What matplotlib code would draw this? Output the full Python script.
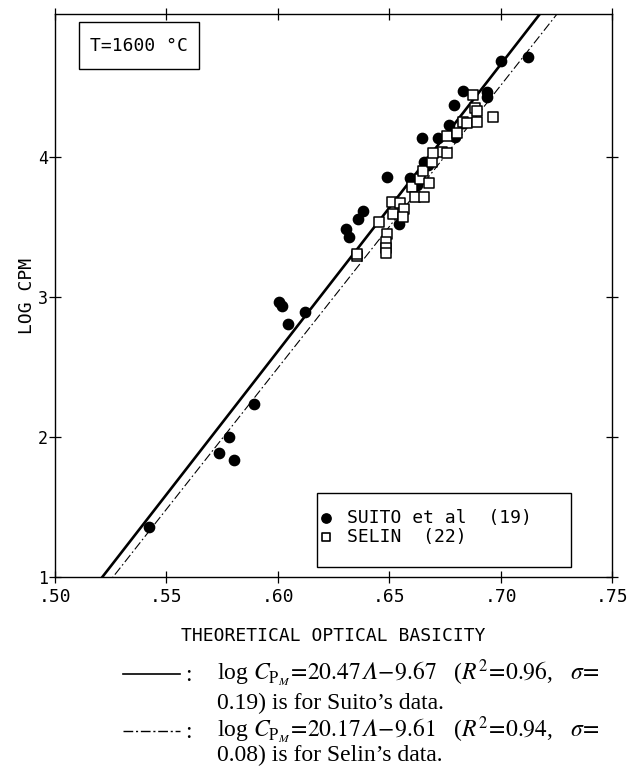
import numpy as np
import matplotlib.pyplot as plt
from matplotlib.patches import Rectangle
from matplotlib.lines import Line2D

plt.rcParams['font.family'] = 'DejaVu Sans Mono'
plt.rcParams['mathtext.fontset'] = 'stix'

# Suito et al (19) - filled circles
suito_x = [0.5422, 0.5737, 0.5782, 0.5802, 0.5893, 0.6005, 0.6019, 0.6047, 0.6122,
           0.6305, 0.6321, 0.6359, 0.6382, 0.6489, 0.6545, 0.6593, 0.6602, 0.6625,
           0.6647, 0.6656, 0.6674, 0.6720, 0.6768, 0.6795, 0.6792, 0.6829, 0.6833,
           0.6938, 0.6938, 0.7002, 0.7124]
suito_y = [1.355, 1.888, 1.998, 1.836, 2.236, 2.966, 2.936, 2.805, 2.895,
           3.484, 3.431, 3.557, 3.614, 3.854, 3.518, 3.848, 3.836, 3.800,
           4.138, 3.964, 3.943, 4.132, 4.225, 4.143, 4.368, 4.471, 4.241,
           4.464, 4.429, 4.682, 4.712]

# Selin (22) - open squares
selin_x = [0.6355, 0.6355, 0.6453, 0.6488, 0.6486, 0.6486, 0.6484, 0.6518, 0.6514,
           0.6548, 0.6568, 0.6561, 0.6601, 0.6616, 0.6656, 0.6638, 0.6680, 0.6653,
           0.6691, 0.6736, 0.6758, 0.6698, 0.6758, 0.6803, 0.6833, 0.6848, 0.6893,
           0.6885, 0.6893, 0.6876, 0.6965]
selin_y = [3.293, 3.307, 3.532, 3.446, 3.393, 3.346, 3.314, 3.595, 3.679,
           3.671, 3.626, 3.574, 3.786, 3.716, 3.716, 3.843, 3.816, 3.900,
           3.966, 4.034, 4.026, 4.026, 4.150, 4.169, 4.252, 4.241, 4.250,
           4.348, 4.329, 4.443, 4.288]

# regression lines from the caption: log C = a*Lambda + b
suito_fit = (20.47, -9.67)
selin_fit = (20.17, -9.61)

x_ticks = [0.50, 0.55, 0.60, 0.65, 0.70, 0.75]
x_ticklabels = ['.50', '.55', '.60', '.65', '.70', '.75']
y_ticks = [1, 2, 3, 4]
y_ticklabels = ['1', '2', '3', '4']

W, H = 632, 767
fig = plt.figure(figsize=(W / 100, H / 100), dpi=100)
ax = fig.add_axes([55 / W, 1 - 577 / H, 557 / W, 563 / H])

xx = np.array([0.50, 0.75])
ax.plot(xx, suito_fit[0] * xx + suito_fit[1], color='k', lw=1.9, zorder=2)
ax.plot(xx, selin_fit[0] * xx + selin_fit[1], color='k', lw=0.8,
        linestyle=(0, (8, 2.5, 1.5, 2.5)), zorder=2)

ax.scatter(suito_x, suito_y, s=55, marker='o', color='k', zorder=3)
ax.scatter(selin_x, selin_y, s=48, marker='s', facecolors='white',
           edgecolors='k', linewidths=1.1, zorder=4)

ax.set_xlim(0.50, 0.75)
ax.set_ylim(1, 5.02)
ax.set_xticks(x_ticks)
ax.set_xticklabels(x_ticklabels)
ax.set_yticks(y_ticks)
ax.set_yticklabels(y_ticklabels)
ax.tick_params(direction='inout', length=8, width=0.9, top=True, right=True,
               labelsize=13)
ax.tick_params(axis='x', pad=4)
ax.tick_params(axis='y', pad=1, labelsize=12)
for s in ax.spines.values():
    s.set_linewidth(1.0)

ax.set_xlabel('THEORETICAL OPTICAL BASICITY', fontsize=13, va='center')
ax.xaxis.set_label_coords(0.5, (577 - 636) / 563)
ax.set_ylabel('LOG CPM', fontsize=13, va='center')
ax.yaxis.set_label_coords((27 - 55) / 557, 0.5)

# temperature box
ax.add_patch(Rectangle((0.043, 0.902), 0.2155, 0.084, transform=ax.transAxes,
                       fill=False, lw=1.0, zorder=5))
ax.text(0.151, 0.944, 'T=1600 °C', transform=ax.transAxes, ha='center',
        va='center', fontsize=13, zorder=6)

# legend box
ax.add_patch(Rectangle((0.470, 0.018), 0.456, 0.131, transform=ax.transAxes,
                       facecolor='white', edgecolor='k', lw=1.0, zorder=5))
ax.scatter([0.486], [0.105], s=45, marker='o', color='k',
           transform=ax.transAxes, zorder=6, clip_on=False)
ax.scatter([0.486], [0.071], s=34, marker='s', facecolors='white',
           edgecolors='k', linewidths=1.2, transform=ax.transAxes, zorder=6,
           clip_on=False)
ax.text(0.525, 0.105, 'SUITO et al  (19)', transform=ax.transAxes,
        va='center', fontsize=13, zorder=6)
ax.text(0.525, 0.071, 'SELIN  (22)', transform=ax.transAxes,
        va='center', fontsize=13, zorder=6)

# caption below the chart
serif = 'Liberation Serif'
cap_size = 17
fig.add_artist(Line2D([123 / W, 180 / W], [1 - 674 / H] * 2, color='k', lw=1.2))
fig.add_artist(Line2D([123 / W, 180 / W], [1 - 731 / H] * 2, color='k', lw=1.0,
                      linestyle=(0, (7, 2, 1.5, 2))))
fig.text(185 / W, 1 - 681 / H, ':', family=serif, fontsize=cap_size)
fig.text(185 / W, 1 - 738 / H, ':', family=serif, fontsize=cap_size)
fig.text(217 / W, 1 - 681 / H,
         r'log $C_{\mathrm{P}_{M}}\!=\!20.47𝛬\!-\!9.67$'
         r'   ($R^{2}\!=\!0.96$,   $\sigma\!=$',
         family=serif, fontsize=cap_size, va='baseline')
fig.text(217 / W, 1 - 709 / H, '0.19) is for Suito’s data.',
         family=serif, fontsize=cap_size, va='baseline')
fig.text(217 / W, 1 - 738 / H,
         r'log $C_{\mathrm{P}_{M}}\!=\!20.17𝛬\!-\!9.61$'
         r'   ($R^{2}\!=\!0.94$,   $\sigma\!=$',
         family=serif, fontsize=cap_size, va='baseline')
fig.text(217 / W, 1 - 761 / H, '0.08) is for Selin’s data.',
         family=serif, fontsize=cap_size, va='baseline')

fig.savefig('out.png', dpi=100)
